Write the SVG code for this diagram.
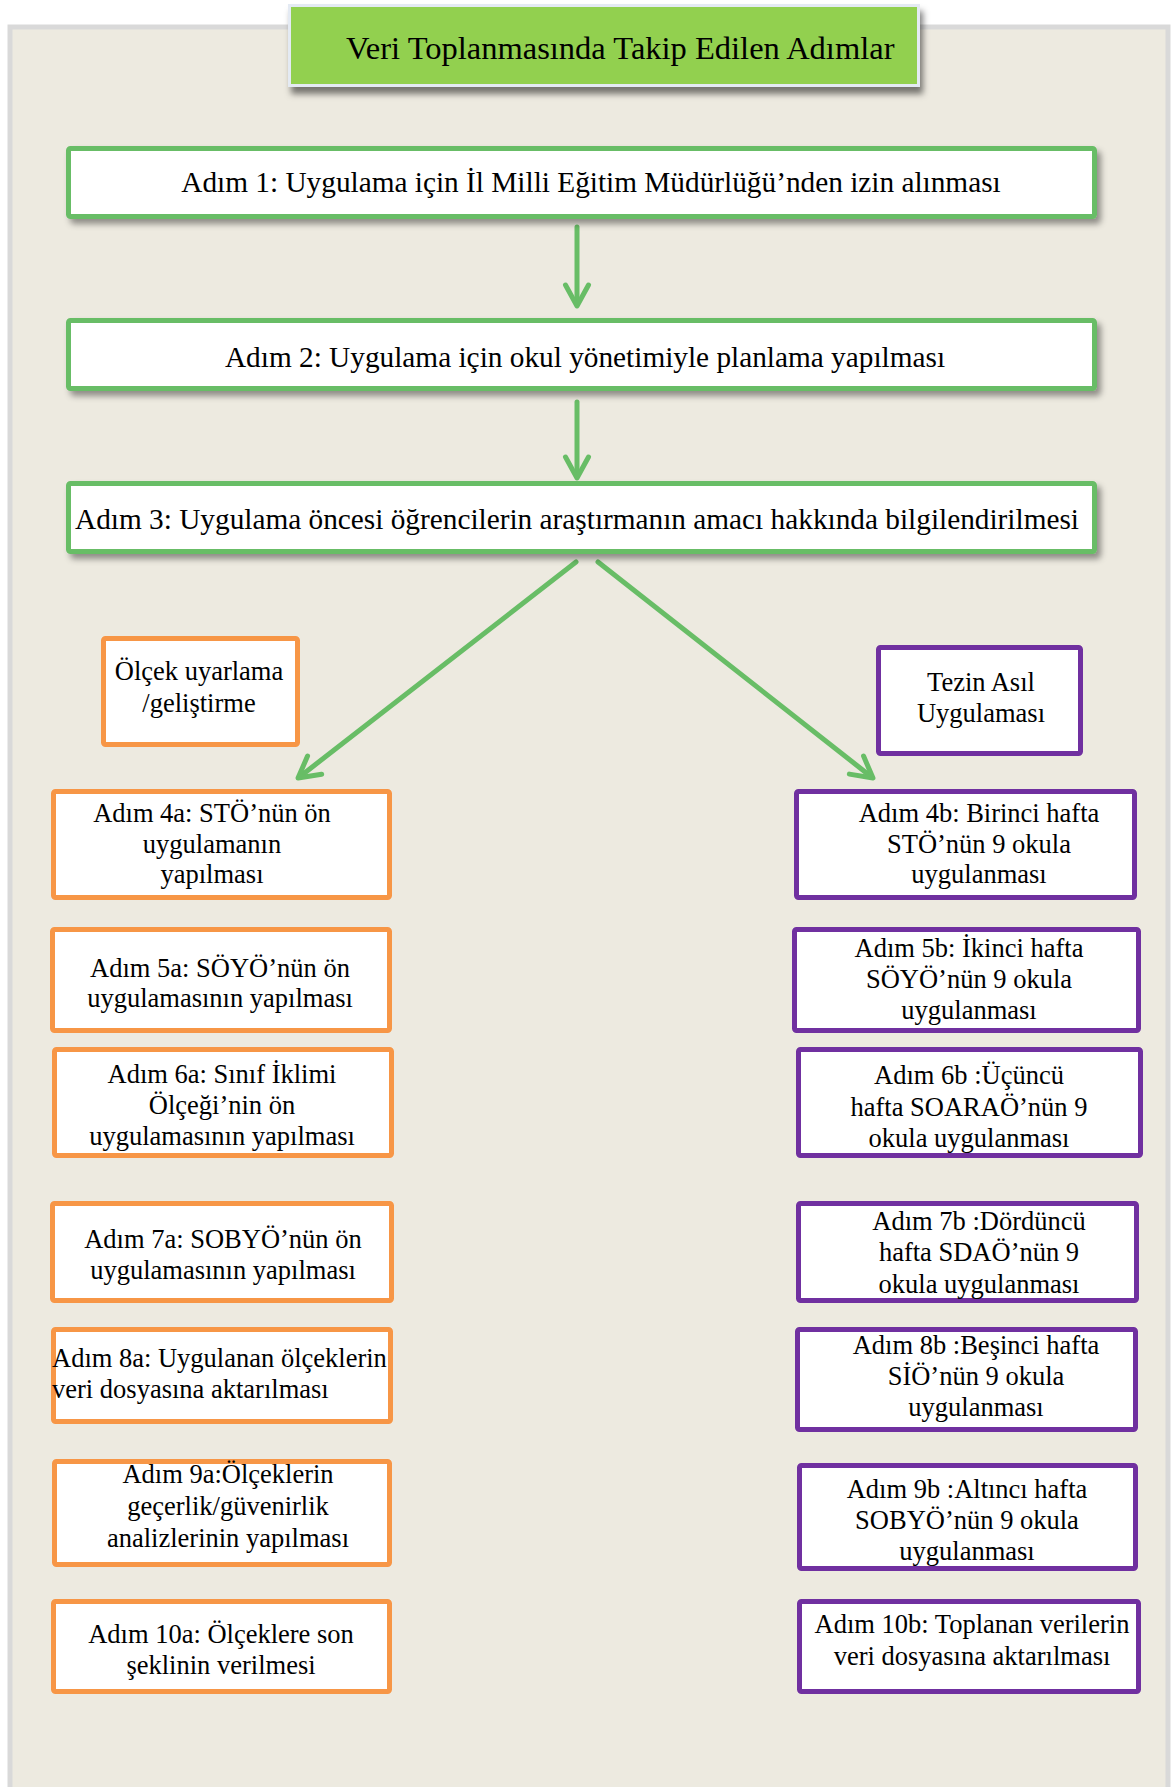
<svg xmlns="http://www.w3.org/2000/svg" width="1173" height="1787" viewBox="0 0 1173 1787">
  <style>
    text { font-family: "Liberation Serif", "Times New Roman", serif; fill: #000; }
    .t-title { font-size: 32.5px; }
    .t-main { font-size: 29.3px; text-anchor: middle; }
    .t-step { font-size: 26.5px; text-anchor: middle; }
    .t-left { font-size: 26.5px; text-anchor: start; }
    .box-green { fill: #fff; stroke: #68BD66; stroke-width: 5; }
    .box-orange { fill: #fff; stroke: #F79646; stroke-width: 5; }
    .box-purple { fill: #fff; stroke: #7030A0; stroke-width: 5; }
    .link { fill: none; stroke: #68BD66; stroke-width: 5; stroke-linecap: round; }
  </style>
  <defs>
    <filter id="shadow" x="-5%" y="-20%" width="115%" height="150%">
      <feDropShadow dx="4" dy="5" stdDeviation="3" flood-color="#000" flood-opacity="0.4"/>
    </filter>
    <filter id="titleShadow" x="-5%" y="-20%" width="115%" height="160%">
      <feDropShadow dx="3" dy="7" stdDeviation="3" flood-color="#000" flood-opacity="0.5"/>
    </filter>
    <marker id="chevron" markerUnits="userSpaceOnUse" markerWidth="40" markerHeight="40" viewBox="-30 -20 40 40" refX="-3" refY="0" orient="auto">
      <path d="M-21,-11.5 L0,0 L-21,11.5" fill="none" stroke="#68BD66" stroke-width="5" stroke-linecap="round" stroke-linejoin="round"/>
    </marker>
  </defs>

  <!-- page background -->
  <rect x="0" y="0" width="1173" height="1787" fill="#fff"/>
  <rect x="10" y="27" width="1158" height="1800" fill="#EDEAE0" stroke="#D9D9D9" stroke-width="5"/>

  <!-- title banner -->
  <g id="title">
    <rect x="289.5" y="5.5" width="629" height="80" fill="#92D050" stroke="#E4EAF3" stroke-width="3" filter="url(#titleShadow)"/>
    <text class="t-title" x="346" y="59">Veri Toplanmasında Takip Edilen Adımlar</text>
  </g>

  <!-- connectors -->
  <g id="connectors">
    <line class="link" x1="577" y1="227" x2="577" y2="303" marker-end="url(#chevron)"/>
    <line class="link" x1="577" y1="402" x2="577" y2="475" marker-end="url(#chevron)"/>
    <line class="link" x1="576" y1="562" x2="300.4" y2="776.2" marker-end="url(#chevron)"/>
    <line class="link" x1="598" y1="562" x2="870.6" y2="776.2" marker-end="url(#chevron)"/>
  </g>

  <!-- main sequence -->
  <g id="step1">
    <rect class="box-green" x="68.5" y="148.5" width="1026" height="68" rx="2" filter="url(#shadow)"/>
    <text class="t-main" x="591" y="192">Adım 1: Uygulama için İl Milli Eğitim Müdürlüğü’nden izin alınması</text>
  </g>
  <g id="step2">
    <rect class="box-green" x="68.5" y="320.5" width="1026" height="68" rx="2" filter="url(#shadow)"/>
    <text class="t-main" x="585" y="367">Adım 2: Uygulama için okul yönetimiyle planlama yapılması</text>
  </g>
  <g id="step3">
    <rect class="box-green" x="68.5" y="483.5" width="1026" height="68" rx="2" filter="url(#shadow)"/>
    <text class="t-main" x="577" y="529">Adım 3: Uygulama öncesi öğrencilerin araştırmanın amacı hakkında bilgilendirilmesi</text>
  </g>

  <!-- branch headers -->
  <g id="branch-a">
    <rect class="box-orange" x="103.5" y="638.5" width="194" height="106" rx="2"/>
    <text class="t-step" x="199" y="680">Ölçek uyarlama</text>
    <text class="t-step" x="199" y="712">/geliştirme</text>
  </g>
  <g id="branch-b">
    <rect class="box-purple" x="878.5" y="647.5" width="202" height="106" rx="2"/>
    <text class="t-step" x="981" y="691">Tezin Asıl</text>
    <text class="t-step" x="981" y="722">Uygulaması</text>
  </g>

  <!-- scale development steps -->
  <g id="step4a">
    <rect class="box-orange" x="53.5" y="791.5" width="336" height="106" rx="2"/>
    <text class="t-step" x="212" y="822">Adım 4a: STÖ’nün ön</text>
    <text class="t-step" x="212" y="853">uygulamanın</text>
    <text class="t-step" x="212" y="883">yapılması</text>
  </g>
  <g id="step5a">
    <rect class="box-orange" x="52.5" y="929.5" width="337" height="101" rx="2"/>
    <text class="t-step" x="220" y="977">Adım 5a: SÖYÖ’nün ön</text>
    <text class="t-step" x="220" y="1007">uygulamasının yapılması</text>
  </g>
  <g id="step6a">
    <rect class="box-orange" x="54.5" y="1049.5" width="337" height="106" rx="2"/>
    <text class="t-step" x="222" y="1083">Adım 6a: Sınıf İklimi</text>
    <text class="t-step" x="222" y="1114">Ölçeği’nin ön</text>
    <text class="t-step" x="222" y="1145">uygulamasının yapılması</text>
  </g>
  <g id="step7a">
    <rect class="box-orange" x="52.5" y="1203.5" width="339" height="97" rx="2"/>
    <text class="t-step" x="223" y="1248">Adım 7a: SOBYÖ’nün ön</text>
    <text class="t-step" x="223" y="1279">uygulamasının yapılması</text>
  </g>
  <g id="step8a">
    <rect class="box-orange" x="53.5" y="1329.5" width="337" height="92" rx="2"/>
    <text class="t-left" x="52" y="1367">Adım 8a: Uygulanan ölçeklerin</text>
    <text class="t-left" x="52" y="1398">veri dosyasına aktarılması</text>
  </g>
  <g id="step9a">
    <rect class="box-orange" x="54.5" y="1461.5" width="335" height="103" rx="2"/>
    <text class="t-step" x="228" y="1483">Adım 9a:Ölçeklerin</text>
    <text class="t-step" x="228" y="1515">geçerlik/güvenirlik</text>
    <text class="t-step" x="228" y="1547">analizlerinin yapılması</text>
  </g>
  <g id="step10a">
    <rect class="box-orange" x="53.5" y="1601.5" width="336" height="90" rx="2"/>
    <text class="t-step" x="221" y="1643">Adım 10a: Ölçeklere son</text>
    <text class="t-step" x="221" y="1674">şeklinin verilmesi</text>
  </g>

  <!-- main study steps -->
  <g id="step4b">
    <rect class="box-purple" x="796.5" y="791.5" width="338" height="106" rx="2"/>
    <text class="t-step" x="979" y="822">Adım 4b: Birinci hafta</text>
    <text class="t-step" x="979" y="853">STÖ’nün 9 okula</text>
    <text class="t-step" x="979" y="883">uygulanması</text>
  </g>
  <g id="step5b">
    <rect class="box-purple" x="794.5" y="929.5" width="344" height="101" rx="2"/>
    <text class="t-step" x="969" y="957">Adım 5b: İkinci hafta</text>
    <text class="t-step" x="969" y="988">SÖYÖ’nün 9 okula</text>
    <text class="t-step" x="969" y="1019">uygulanması</text>
  </g>
  <g id="step6b">
    <rect class="box-purple" x="798.5" y="1049.5" width="342" height="106" rx="2"/>
    <text class="t-step" x="969" y="1084">Adım 6b :Üçüncü</text>
    <text class="t-step" x="969" y="1116">hafta SOARAÖ’nün 9</text>
    <text class="t-step" x="969" y="1147">okula uygulanması</text>
  </g>
  <g id="step7b">
    <rect class="box-purple" x="798.5" y="1203.5" width="338" height="97" rx="2"/>
    <text class="t-step" x="979" y="1230">Adım 7b :Dördüncü</text>
    <text class="t-step" x="979" y="1261">hafta SDAÖ’nün 9</text>
    <text class="t-step" x="979" y="1293">okula uygulanması</text>
  </g>
  <g id="step8b">
    <rect class="box-purple" x="797.5" y="1329.5" width="338" height="100" rx="2"/>
    <text class="t-step" x="976" y="1354">Adım 8b :Beşinci hafta</text>
    <text class="t-step" x="976" y="1385">SİÖ’nün 9 okula</text>
    <text class="t-step" x="976" y="1416">uygulanması</text>
  </g>
  <g id="step9b">
    <rect class="box-purple" x="799.5" y="1465.5" width="336" height="103" rx="2"/>
    <text class="t-step" x="967" y="1498">Adım 9b :Altıncı hafta</text>
    <text class="t-step" x="967" y="1529">SOBYÖ’nün 9 okula</text>
    <text class="t-step" x="967" y="1560">uygulanması</text>
  </g>
  <g id="step10b">
    <rect class="box-purple" x="799.5" y="1601.5" width="339" height="90" rx="2"/>
    <text class="t-step" x="972" y="1633">Adım 10b: Toplanan verilerin</text>
    <text class="t-step" x="972" y="1665">veri dosyasına aktarılması</text>
  </g>
</svg>
